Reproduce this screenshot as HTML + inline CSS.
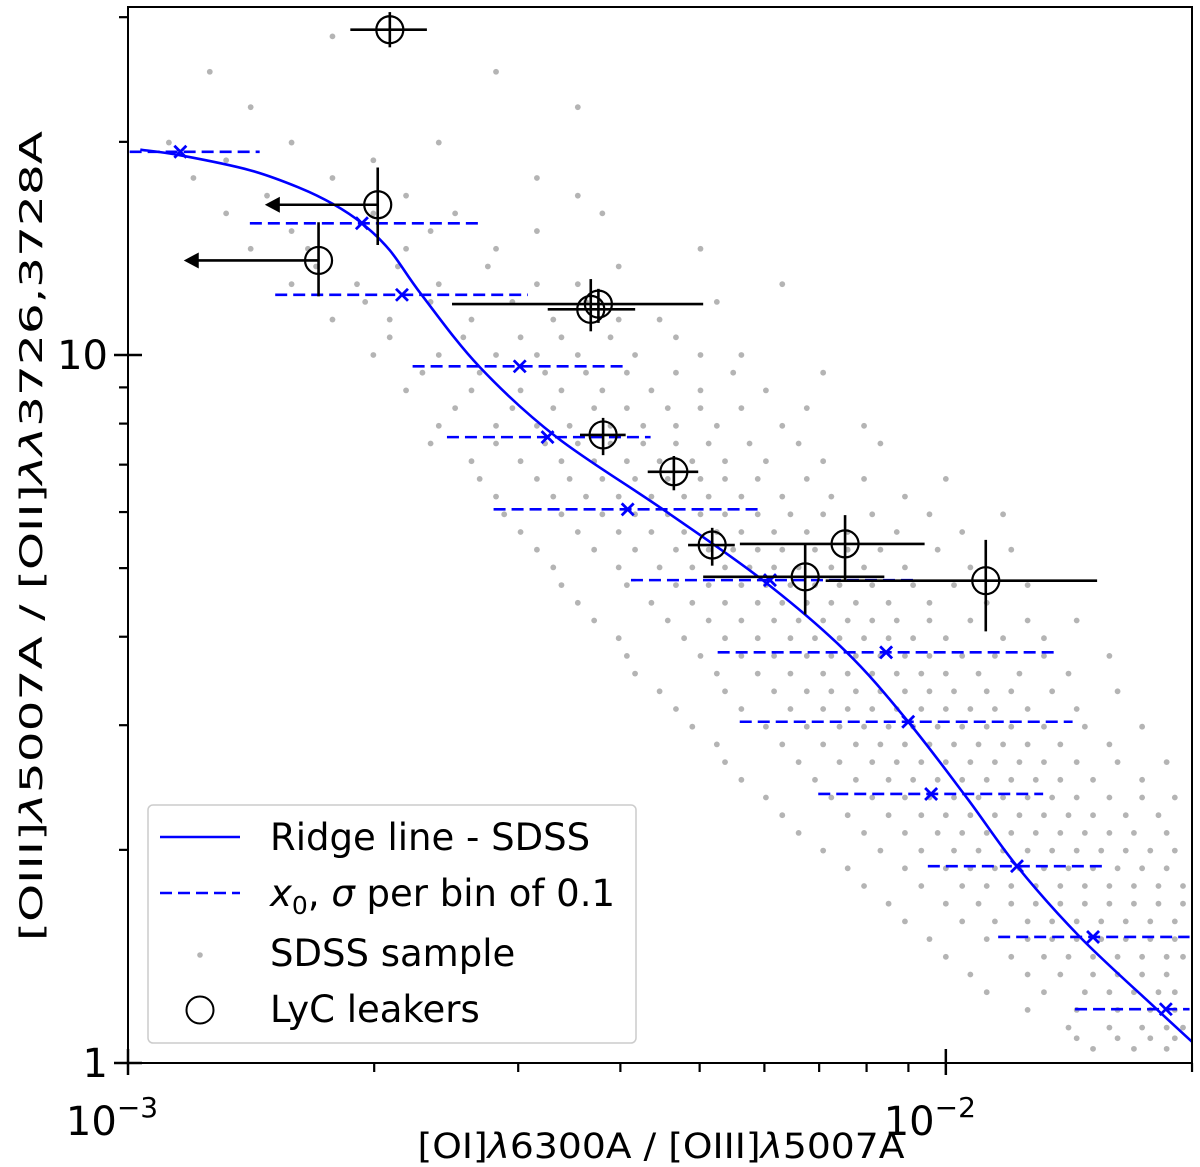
<!DOCTYPE html>
<html><head><meta charset="utf-8"><style>
html,body{margin:0;padding:0;background:#fff;}
svg{display:block;font-family:"DejaVu Sans","Liberation Sans",sans-serif;}
</style></head><body>
<svg id="chart" width="1200" height="1167" viewBox="0 0 1200 1167" xmlns="http://www.w3.org/2000/svg">
<g id="scatter"></g>
<g id="bins"></g>
<path id="ridge" fill="none" stroke="#0000ff" stroke-width="2.6"/>
<g id="leakers"></g>
<rect x="128" y="7" width="1064" height="1056" fill="none" stroke="#000" stroke-width="2"/>
<g id="ticks"></g>
<text x="661" y="1158" font-size="35" text-anchor="middle" textLength="487" lengthAdjust="spacingAndGlyphs">[OI]<tspan font-style="italic">λ</tspan>6300A / [OIII]<tspan font-style="italic">λ</tspan>5007A</text>
<text transform="translate(42,536) rotate(-90)" font-size="31" text-anchor="middle" textLength="810" lengthAdjust="spacingAndGlyphs">[OIII]<tspan font-style="italic">λ</tspan>5007A / [OII]<tspan font-style="italic">λλ</tspan>3726,3728A</text>
<g>
<rect x="148" y="805" width="488" height="238" rx="5" fill="#fff" fill-opacity="0.85" stroke="#ccc" stroke-width="1.5"/>
<line x1="160" y1="837" x2="240" y2="837" stroke="#0000ff" stroke-width="2.6"/>
<text x="270" y="850" font-size="37">Ridge line - SDSS</text>
<line x1="160" y1="893" x2="240" y2="893" stroke="#0000ff" stroke-width="2.6" stroke-dasharray="12,6"/>
<text x="270" y="906" font-size="37"><tspan font-style="italic">x</tspan><tspan font-size="25" dy="8">0</tspan><tspan dy="-8">, </tspan><tspan font-style="italic">σ</tspan> per bin of 0.1</text>
<circle cx="200" cy="955" r="2.8" fill="#b4b4b4"/>
<text x="270" y="966" font-size="37">SDSS sample</text>
<circle cx="200" cy="1010" r="13.5" fill="none" stroke="#000" stroke-width="2"/>
<text x="270" y="1022" font-size="37">LyC leakers</text>
</g>
</svg>
<script>
// axis ranges (log10)
const xLogMin = -3, xLogMax = -1.699;
const yLogMin = 0, yLogMax = 1.4915;
// ridge line (log10 values)
const ridgeLogX = [-2.985,-2.936,-2.851,-2.790,-2.749,-2.714,-2.680,-2.641,-2.570,-2.476,-2.346,-2.224,-2.122,-2.046,-1.974,-1.913,-1.836,-1.744,-1.699];
const ridgeLogY = [1.290,1.282,1.261,1.236,1.213,1.186,1.148,1.085,0.983,0.884,0.782,0.682,0.581,0.482,0.374,0.278,0.178,0.078,0.030];
// per-bin x0 and sigma extents (log10)
const binLogY = [1.287,1.186,1.085,0.984,0.884,0.782,0.682,0.580,0.482,0.380,0.278,0.178,0.076];
const binLogX0 = [-2.936,-2.714,-2.665,-2.521,-2.487,-2.389,-2.215,-2.073,-2.046,-2.018,-1.913,-1.820,-1.731];
const binLogLo = [-2.998,-2.851,-2.820,-2.652,-2.610,-2.553,-2.385,-2.279,-2.252,-2.156,-2.022,-1.936,-1.842];
const binLogHi = [-2.839,-2.572,-2.511,-2.389,-2.361,-2.224,-2.040,-1.867,-1.845,-1.881,-1.806,-1.702,-1.702];
// LyC leakers (linear values)
const lkX   = [0.00209,0.00202,0.00171,0.00368,0.00376,0.00381,0.00465,0.00518,0.00753,0.00673,0.01119];
const lkXlo = [0.00187,0.00147,0.00117,0.00326,0.00249,0.00357,0.00432,0.00484,0.00560,0.00505,0.00713];
const lkXhi = [0.00232,0.00202,0.00171,0.00417,0.00505,0.00406,0.00498,0.00552,0.00942,0.00841,0.01531];
const lkY   = [28.8,16.3,13.6,11.6,11.8,7.71,6.84,5.39,5.41,4.86,4.80];
const lkYlo = [27.2,14.3,12.1,10.8,11.1,7.22,6.44,5.04,4.81,4.30,4.07];
const lkYhi = [30.5,18.4,15.4,12.8,12.4,8.15,7.20,5.70,5.94,5.39,5.48];
const lkUpperLimit = [false,true,true,false,false,false,false,false,false,false,false];
// SDSS sample: rows of logY with logX values
const sdssRowY = [1.40,1.30,1.25,1.20,1.15,1.10,1.05,1.00,0.95,0.90,0.85,0.80,0.75,0.70,0.65,0.60,0.55,0.50,0.45,0.40,0.35,0.30,0.25,0.20,0.15,0.10,0.05,0.02,
 1.45,1.35,1.275,1.225,1.175,1.125,1.075,1.025,0.975,0.925,0.875,0.825,0.775,0.725,0.675,0.625,0.575,0.525,0.475,0.425,0.375,0.325,0.275,0.225,0.175,0.125,0.075,0.035];
const sdssRowX = [
[-2.90,-2.55],
[-2.95,-2.80,-2.62],
[-2.92,-2.75,-2.50],
[-2.88,-2.70,-2.60,-2.42],
[-2.85,-2.78,-2.66,-2.55,-2.30],
[-2.80,-2.72,-2.62,-2.50,-2.45,-2.20],
[-2.75,-2.68,-2.58,-2.48,-2.40,-2.35],
[-2.70,-2.62,-2.55,-2.50,-2.45,-2.38,-2.30,-2.25],
[-2.66,-2.58,-2.52,-2.47,-2.42,-2.36,-2.30,-2.22],
[-2.62,-2.55,-2.50,-2.46,-2.41,-2.37,-2.33,-2.28,-2.20,-2.10],
[-2.58,-2.52,-2.47,-2.43,-2.39,-2.35,-2.31,-2.27,-2.22,-2.15],
[-2.55,-2.48,-2.44,-2.40,-2.36,-2.32,-2.29,-2.25,-2.20,-2.14,-2.05],
[-2.52,-2.45,-2.40,-2.36,-2.32,-2.28,-2.25,-2.21,-2.17,-2.12,-2.06,-1.98],
[-2.48,-2.40,-2.35,-2.31,-2.27,-2.24,-2.21,-2.18,-2.14,-2.10,-2.05,-1.97],
[-2.45,-2.36,-2.31,-2.27,-2.23,-2.20,-2.17,-2.14,-2.11,-2.07,-2.02,-1.95],
[-2.40,-2.32,-2.27,-2.23,-2.19,-2.16,-2.13,-2.10,-2.07,-2.04,-2.00,-1.93,-1.88],
[-2.38,-2.28,-2.23,-2.19,-2.15,-2.12,-2.09,-2.06,-2.03,-2.00,-1.96,-1.91,-1.85],
[-2.33,-2.25,-2.19,-2.15,-2.12,-2.09,-2.06,-2.03,-2.00,-1.97,-1.94,-1.90,-1.84],
[-2.28,-2.20,-2.15,-2.11,-2.08,-2.05,-2.02,-1.99,-1.96,-1.93,-1.90,-1.86,-1.80],
[-2.25,-2.16,-2.11,-2.07,-2.04,-2.01,-1.98,-1.95,-1.92,-1.89,-1.86,-1.82,-1.76],
[-2.20,-2.12,-2.07,-2.03,-2.00,-1.97,-1.94,-1.91,-1.88,-1.85,-1.82,-1.78,-1.74],
[-2.15,-2.08,-2.03,-1.99,-1.96,-1.93,-1.90,-1.87,-1.84,-1.81,-1.78,-1.75,-1.72],
[-2.10,-2.03,-1.98,-1.95,-1.92,-1.89,-1.86,-1.83,-1.80,-1.77,-1.74,-1.71],
[-2.05,-1.98,-1.94,-1.90,-1.87,-1.84,-1.81,-1.78,-1.75,-1.72],
[-2.00,-1.92,-1.88,-1.85,-1.82,-1.79,-1.76,-1.73,-1.71],
[-1.95,-1.88,-1.83,-1.80,-1.77,-1.74,-1.72],
[-1.85,-1.80,-1.76,-1.73,-1.71],
[-1.82,-1.77,-1.73],
[-2.75],
[-2.85,-2.45],
[-2.88,-2.70],
[-2.83,-2.66,-2.45],
[-2.80,-2.63,-2.50],
[-2.77,-2.67,-2.56,-2.40],
[-2.71,-2.63,-2.53,-2.44,-2.28],
[-2.68,-2.59,-2.52,-2.47,-2.41,-2.33],
[-2.64,-2.57,-2.49,-2.44,-2.39,-2.33,-2.26,-2.15],
[-2.60,-2.53,-2.48,-2.43,-2.39,-2.34,-2.30,-2.25,-2.17],
[-2.63,-2.55,-2.49,-2.45,-2.41,-2.37,-2.33,-2.29,-2.24,-2.18,-2.08],
[-2.57,-2.50,-2.46,-2.42,-2.38,-2.34,-2.30,-2.27,-2.23,-2.17,-2.10,-2.00],
[-2.54,-2.47,-2.42,-2.38,-2.34,-2.30,-2.27,-2.23,-2.19,-2.15,-2.09,-2.02,-1.93],
[-2.50,-2.43,-2.38,-2.33,-2.29,-2.26,-2.23,-2.20,-2.16,-2.12,-2.08,-2.01,-1.92],
[-2.47,-2.39,-2.33,-2.29,-2.25,-2.22,-2.19,-2.16,-2.13,-2.09,-2.04,-1.99,-1.90],
[-2.43,-2.34,-2.29,-2.25,-2.21,-2.18,-2.15,-2.12,-2.09,-2.06,-2.02,-1.97,-1.90,-1.84],
[-2.39,-2.30,-2.25,-2.21,-2.17,-2.14,-2.11,-2.08,-2.05,-2.02,-1.98,-1.94,-1.88,-1.80],
[-2.35,-2.27,-2.21,-2.17,-2.14,-2.11,-2.08,-2.05,-2.02,-1.99,-1.95,-1.92,-1.87,-1.79],
[-2.31,-2.22,-2.17,-2.13,-2.10,-2.07,-2.04,-2.01,-1.98,-1.95,-1.92,-1.88,-1.83,-1.76],
[-2.27,-2.18,-2.13,-2.09,-2.06,-2.03,-2.00,-1.97,-1.94,-1.91,-1.88,-1.84,-1.79,-1.73],
[-2.22,-2.14,-2.09,-2.05,-2.02,-1.99,-1.96,-1.93,-1.90,-1.87,-1.84,-1.80,-1.76,-1.72],
[-2.18,-2.10,-2.05,-2.01,-1.98,-1.95,-1.92,-1.89,-1.86,-1.83,-1.80,-1.77,-1.73],
[-2.12,-2.05,-2.00,-1.97,-1.94,-1.91,-1.88,-1.85,-1.82,-1.79,-1.76,-1.73],
[-2.07,-2.00,-1.96,-1.92,-1.89,-1.86,-1.83,-1.80,-1.77,-1.74,-1.71],
[-2.02,-1.95,-1.90,-1.87,-1.84,-1.81,-1.78,-1.75,-1.72],
[-1.97,-1.90,-1.86,-1.82,-1.79,-1.76,-1.73],
[-1.90,-1.84,-1.79,-1.75,-1.72],
[-1.84,-1.79,-1.75,-1.72]
];
const xTickLabels = ["10", "10"];
const xTickExp = ["−3", "−2"];
const yTickLabels = ["1", "10"];

const PX0 = 128, PX1 = 1192, PY0 = 1063, PY1 = 7;
function sx(lg){ return PX0 + (lg - xLogMin) / (xLogMax - xLogMin) * (PX1 - PX0); }
function sy(lg){ return PY0 - (lg - yLogMin) / (yLogMax - yLogMin) * (PY0 - PY1); }
const NS = "http://www.w3.org/2000/svg";
function mk(tag, attrs, parent){ const e = document.createElementNS(NS, tag); for (const k in attrs) e.setAttribute(k, attrs[k]); parent.appendChild(e); return e; }

const gS = document.getElementById('scatter');
sdssRowY.forEach((ly, i) => {
  sdssRowX[i].forEach(lx => {
    const c = mk('circle', {cx: sx(lx), cy: sy(ly), r: 2.9, fill: '#b4b4b4'}, gS);
    
    
  });
});

const gB = document.getElementById('bins');
binLogY.forEach((ly, i) => {
  const y = sy(ly);
  const l = mk('line', {x1: sx(binLogLo[i]), x2: sx(binLogHi[i]), y1: y, y2: y, stroke: '#0000ff', 'stroke-width': 2.6, 'stroke-dasharray': '12,6'}, gB);
  
  
  const x = sx(binLogX0[i]);
  const m = mk('path', {d: `M${x-6},${y-6}L${x+6},${y+6}M${x-6},${y+6}L${x+6},${y-6}`, stroke: '#0000ff', 'stroke-width': 2.8}, gB);
  
  
});

// ridge: Catmull-Rom smooth
(function(){
  const p = ridgeLogX.map((lx, i) => [sx(lx), sy(ridgeLogY[i])]);
  let d = `M${p[0][0]},${p[0][1]}`;
  for (let i = 0; i < p.length - 1; i++) {
    const p0 = p[i-1] || p[i], p1 = p[i], p2 = p[i+1], p3 = p[i+2] || p2;
    d += `C${p1[0]+(p2[0]-p0[0])/6},${p1[1]+(p2[1]-p0[1])/6} ${p2[0]-(p3[0]-p1[0])/6},${p2[1]-(p3[1]-p1[1])/6} ${p2[0]},${p2[1]}`;
  }
  document.getElementById('ridge').setAttribute('d', d);
})();

const gL = document.getElementById('leakers');
lkX.forEach((v, i) => {
  const x = sx(Math.log10(v)), y = sy(Math.log10(lkY[i]));
  const g = mk('g', {}, gL);
  
  
  mk('line', {x1: x, x2: x, y1: sy(Math.log10(lkYlo[i])), y2: sy(Math.log10(lkYhi[i])), stroke: '#000', 'stroke-width': 2.6}, g);
  if (lkUpperLimit[i]) {
    const xe = sx(Math.log10(lkXlo[i]));
    mk('line', {x1: xe + 8, x2: x, y1: y, y2: y, stroke: '#000', 'stroke-width': 2.6}, g);
    mk('path', {d: `M${xe},${y}L${xe+15},${y-8}L${xe+15},${y+8}Z`, fill: '#000'}, g);
  } else {
    mk('line', {x1: sx(Math.log10(lkXlo[i])), x2: sx(Math.log10(lkXhi[i])), y1: y, y2: y, stroke: '#000', 'stroke-width': 2.6}, g);
  }
  mk('circle', {cx: x, cy: y, r: 13.5, fill: 'none', stroke: '#000', 'stroke-width': 2.2}, g);
});

const gT = document.getElementById('ticks');
[-3, -2].forEach((lg, i) => {
  const x = sx(lg);
  mk('line', {x1: x, x2: x, y1: PY0 - 14, y2: PY0 + 12, stroke: '#000', 'stroke-width': 2.5}, gT);
  const t = mk('text', {x: x - 16, y: 1135, 'font-size': 40, 'text-anchor': 'middle'}, gT);
  
  
  t.textContent = xTickLabels[i];
  const s = mk('tspan', {'font-size': 28, dy: -18}, t); s.textContent = xTickExp[i];
});
[-3, -2].forEach(dec => { for (let k = 2; k <= 9; k++) { const lg = dec + Math.log10(k); if (lg > xLogMax + 0.002) continue;
  const x = sx(lg); mk('line', {x1: x, x2: x, y1: PY0, y2: PY0 + 9, stroke: '#000', 'stroke-width': 2.2}, gT); } });
[0, 1].forEach((lg, i) => {
  const y = sy(lg);
  mk('line', {x1: PX0 - 14, x2: PX0 + 14, y1: y, y2: y, stroke: '#000', 'stroke-width': 2.5}, gT);
  const t = mk('text', {x: PX0 - 20, y: y + 14, 'font-size': 40, 'text-anchor': 'end'}, gT);
  
  
  t.textContent = yTickLabels[i];
});
[0, 1].forEach(dec => { for (let k = 2; k <= 9; k++) { const lg = dec + Math.log10(k); if (lg > yLogMax) continue;
  const y = sy(lg); mk('line', {x1: PX0 - 9, x2: PX0, y1: y, y2: y, stroke: '#000', 'stroke-width': 2.2}, gT); } });
</script>
</body></html>
